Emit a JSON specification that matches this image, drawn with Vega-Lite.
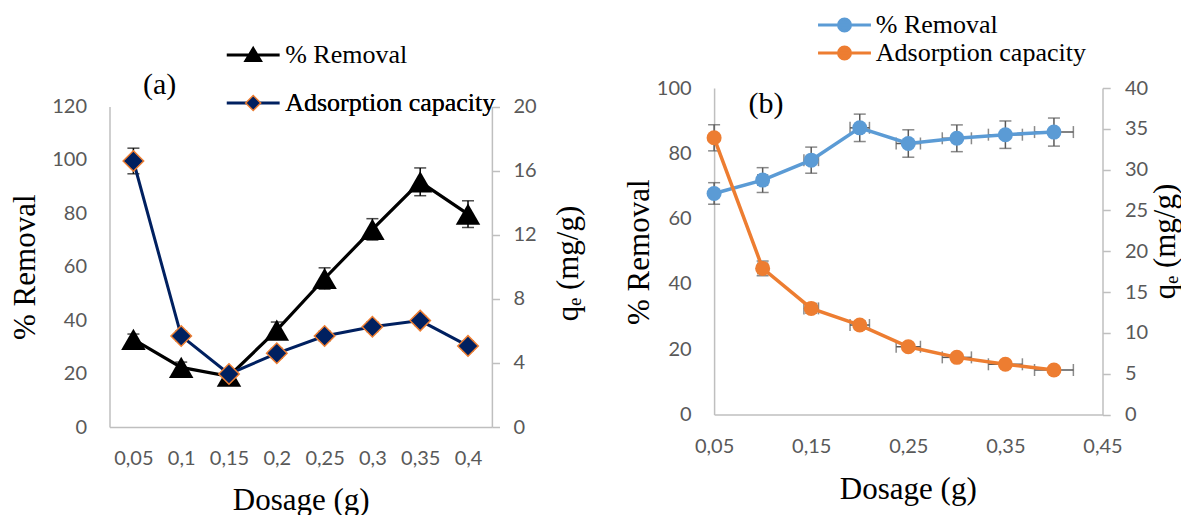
{
  "$schema": "https://vega.github.io/schema/vega-lite/v6.json",
  "background": "white",
  "padding": {"left": 8.5, "top": 12, "right": 0, "bottom": 0},
  "bounds": "flush",
  "spacing": 221.6,
  "config": {
    "view": {"stroke": null},
    "axis": {
      "grid": false,
      "labelFont": "Lato",
      "labelFontSize": 20,
      "labelColor": "#595959",
      "domainColor": "#bfbfbf",
      "domainWidth": 1.5,
      "tickColor": "#bfbfbf",
      "tickWidth": 1.5,
      "titleFont": "Liberation Serif",
      "titleFontSize": 31,
      "titleFontWeight": "normal",
      "titleColor": "black",
      "labelOverlap": false,
      "labelFlush": false
    }
  },
  "datasets": {
    "a": [
      {"dose": "0,05", "removal": 32.8, "removal_err": 2.0, "qe": 16.6, "qe_err": 0.8},
      {"dose": "0,1", "removal": 22.3, "removal_err": 2.0, "qe": 5.68, "qe_err": 0.3},
      {"dose": "0,15", "removal": 19.0, "removal_err": 2.0, "qe": 3.31, "qe_err": 0.3},
      {"dose": "0,2", "removal": 36.3, "removal_err": 3.0, "qe": 4.6, "qe_err": 0.3},
      {"dose": "0,25", "removal": 55.6, "removal_err": 4.0, "qe": 5.68, "qe_err": 0.3},
      {"dose": "0,3", "removal": 74.0, "removal_err": 4.0, "qe": 6.26, "qe_err": 0.3},
      {"dose": "0,35", "removal": 91.8, "removal_err": 5.2, "qe": 6.64, "qe_err": 0.3},
      {"dose": "0,4", "removal": 79.7, "removal_err": 5.0, "qe": 5.06, "qe_err": 0.3}
    ],
    "b": [
      {"dose": 0.05, "dose_err": 0.0025, "removal": 67.7, "removal_err": 3.3, "qe": 33.9, "qe_err": 1.6},
      {"dose": 0.1, "dose_err": 0.005, "removal": 71.8, "removal_err": 3.8, "qe": 17.9, "qe_err": 0.9},
      {"dose": 0.15, "dose_err": 0.0075, "removal": 77.9, "removal_err": 4.0, "qe": 13.0, "qe_err": 0.6},
      {"dose": 0.2, "dose_err": 0.01, "removal": 87.8, "removal_err": 4.2, "qe": 10.96, "qe_err": 0.5},
      {"dose": 0.25, "dose_err": 0.0125, "removal": 83.0, "removal_err": 4.2, "qe": 8.3, "qe_err": 0.4},
      {"dose": 0.3, "dose_err": 0.015, "removal": 84.6, "removal_err": 4.1, "qe": 7.0, "qe_err": 0.4},
      {"dose": 0.35, "dose_err": 0.0175, "removal": 85.7, "removal_err": 4.2, "qe": 6.15, "qe_err": 0.3},
      {"dose": 0.4, "dose_err": 0.02, "removal": 86.5, "removal_err": 4.3, "qe": 5.45, "qe_err": 0.3}
    ]
  },
  "resolve": {"scale": {"color": "independent", "stroke": "independent"}},
  "hconcat": [
    {
      "width": 382.4,
      "height": 339,
      "data": {"name": "a"},
      "title": {"text": "(a)", "frame": "group", "anchor": "start", "orient": "top", "baseline": "middle", "align": "left", "offset": -73.4, "dx": 33.4, "font": "Liberation Serif", "fontSize": 30, "fontWeight": "normal", "color": "black"},
      "resolve": {"scale": {"y": "independent"}},
      "layer": [
        {
          "layer": [
            {
              "mark": {"type": "errorbar", "ticks": true, "color": "black", "thickness": 1.5, "size": 12},
              "encoding": {
                "x": {"field": "dose", "type": "ordinal", "sort": null, "title": "Dosage (g)",
                  "scale": {"type": "point", "padding": 0.5},
                  "axis": {"ticks": false, "tickSize": 0, "labelPadding": 31.3, "labelBaseline": "middle", "labelAngle": 0, "labelOverlap": false, "titleX": 191.2, "titleY": 82, "titleBaseline": "alphabetic", "titleAlign": "center"}},
                "y": {"field": "removal", "type": "quantitative", "title": "% Removal",
                  "scale": {"domain": [0, 120], "range": [339, 18.5], "nice": false, "zero": true},
                  "axis": {"orient": "left", "values": [0, 20, 40, 60, 80, 100, 120], "ticks": false, "tickSize": 0, "labelPadding": 23, "labelOverlap": false, "titleAngle": 270, "titleX": -84.3, "titleY": 178.7, "titleBaseline": "middle", "titleAlign": "center"}},
                "yError": {"field": "removal_err"}
              }
            },
            {
              "mark": {"type": "line", "strokeWidth": 3.2},
              "encoding": {
                "x": {"field": "dose", "type": "ordinal", "sort": null, "title": "Dosage (g)"},
                "y": {"field": "removal", "type": "quantitative", "title": "% Removal"},
                "color": {"datum": "% Removal",
                  "scale": {"domain": ["% Removal", "Adsorption capacity"], "range": ["#000000", "#002060"]},
                  "legend": {"orient": "none", "legendX": 130.7, "legendY": -46, "title": null, "direction": "vertical",
                    "labelOffset": 19, "rowPadding": 22, "padding": 0, "symbolSize": 529, "symbolStrokeWidth": 3, "labelLimit": 0,
                    "labelFont": "Liberation Serif", "labelFontSize": 26, "labelColor": "black",
                    "encode": {"symbols": {"update": {
                      "shape": {"signal": "datum.value === '% Removal' ? 'M-2.3,0H2.3M0,-0.55L0.62,0.48L-0.62,0.48Z' : 'M-2.3,0H2.3M0,-0.45L0.45,0L0,0.45L-0.45,0Z'"},
                      "fill": {"signal": "datum.value === '% Removal' ? '#000000' : '#002060'"},
                      "stroke": {"signal": "datum.value === '% Removal' ? '#000000' : '#002060'"},
                      "strokeWidth": {"value": 3},
                      "opacity": {"value": 1},
                      "size": {"value": 529}
                    }}}
                  }}
              }
            },
            {
              "mark": {"type": "point", "shape": "triangle-up", "filled": true, "size": 600, "opacity": 1},
              "encoding": {
                "x": {"field": "dose", "type": "ordinal", "sort": null, "title": "Dosage (g)"},
                "y": {"field": "removal", "type": "quantitative", "title": "% Removal"},
                "color": {"datum": "% Removal"}
              }
            }
          ]
        },
        {
          "layer": [
            {
              "mark": {"type": "errorbar", "ticks": true, "color": "black", "thickness": 1.5, "size": 12},
              "encoding": {
                "x": {"field": "dose", "type": "ordinal", "sort": null, "title": "Dosage (g)"},
                "y": {"field": "qe", "type": "quantitative", "title": "qₑ (mg/g)",
                  "scale": {"domain": [0, 20], "range": [339, 18.5], "nice": false, "zero": true},
                  "axis": {"orient": "right", "values": [0, 2, 4, 6, 8, 10, 12, 14, 16, 18, 20], "ticks": true, "tickSize": 7.6, "labelPadding": 13.4, "labelOverlap": false, "titleAngle": 270, "titleX": 77, "titleY": 175, "titleBaseline": "middle", "titleAlign": "center"}},
                "yError": {"field": "qe_err"}
              }
            },
            {
              "mark": {"type": "line", "strokeWidth": 3},
              "encoding": {
                "x": {"field": "dose", "type": "ordinal", "sort": null, "title": "Dosage (g)"},
                "y": {"field": "qe", "type": "quantitative", "title": "qₑ (mg/g)"},
                "color": {"datum": "Adsorption capacity"}
              }
            },
            {
              "mark": {"type": "point", "shape": "diamond", "filled": true, "size": 420, "opacity": 1, "strokeWidth": 1.5},
              "encoding": {
                "x": {"field": "dose", "type": "ordinal", "sort": null, "title": "Dosage (g)"},
                "y": {"field": "qe", "type": "quantitative", "title": "qₑ (mg/g)"},
                "color": {"datum": "Adsorption capacity"},
                "stroke": {"datum": "Adsorption capacity",
                  "scale": {"domain": ["Adsorption capacity"], "range": ["#ED7D31"]},
                  "legend": {"orient": "none", "legendX": 130.7, "legendY": 2, "title": null, "direction": "vertical",
                    "labelOffset": 19, "padding": 0, "symbolSize": 225, "symbolStrokeWidth": 1.5, "labelLimit": 0,
                    "labelFont": "Liberation Serif", "labelFontSize": 26, "labelColor": "black",
                    "encode": {
                      "labels": {"update": {"text": {"value": ""}, "opacity": {"value": 0}}},
                      "symbols": {"update": {
                        "shape": {"value": "diamond"},
                        "fill": {"value": "#002060"},
                        "stroke": {"value": "#ED7D31"},
                        "strokeWidth": {"value": 1.5},
                        "opacity": {"value": 1},
                        "size": {"value": 225}
                      }}}
                  }}
              }
            }
          ]
        }
      ]
    },
    {
      "width": 388.4,
      "height": 326.5,
      "data": {"name": "b"},
      "title": {"text": "(b)", "frame": "group", "anchor": "start", "orient": "top", "baseline": "middle", "align": "left", "offset": -121.6, "dx": 34.4, "font": "Liberation Serif", "fontSize": 30, "fontWeight": "normal", "color": "black"},
      "resolve": {"scale": {"y": "independent"}},
      "layer": [
        {
          "layer": [
            {
              "mark": {"type": "errorbar", "ticks": true, "color": "#595959", "thickness": 1.5, "size": 12},
              "encoding": {
                "x": {"field": "dose", "type": "quantitative", "title": "Dosage (g)",
                  "scale": {"domain": [0.05, 0.45], "nice": false, "zero": false},
                  "axis": {"values": [0.05, 0.15, 0.25, 0.35, 0.45], "format": ".2f", "labelExpr": "replace(datum.label, '.', ',')", "ticks": false, "tickSize": 0, "labelPadding": 32, "labelBaseline": "middle", "labelOverlap": false, "titleX": 193.7, "titleY": 84.3, "titleBaseline": "alphabetic", "titleAlign": "center"}},
                "y": {"field": "removal", "type": "quantitative", "title": "% Removal",
                  "scale": {"domain": [0, 100], "nice": false, "zero": true},
                  "axis": {"orient": "left", "values": [0, 10, 20, 30, 40, 50, 60, 70, 80, 90, 100], "ticks": false, "tickSize": 0, "labelPadding": 23, "labelOverlap": false, "titleAngle": 270, "titleX": -74.8, "titleY": 163.7, "titleBaseline": "middle", "titleAlign": "center"}},
                "yError": {"field": "removal_err"}
              }
            },
            {
              "mark": {"type": "errorbar", "ticks": true, "color": "#595959", "thickness": 1.5, "size": 12},
              "encoding": {
                "x": {"field": "dose", "type": "quantitative", "title": "Dosage (g)"},
                "xError": {"field": "dose_err"},
                "y": {"field": "removal", "type": "quantitative", "title": "% Removal"}
              }
            },
            {
              "mark": {"type": "line", "strokeWidth": 3.5},
              "encoding": {
                "x": {"field": "dose", "type": "quantitative", "title": "Dosage (g)"},
                "y": {"field": "removal", "type": "quantitative", "title": "% Removal"},
                "color": {"datum": "% Removal",
                  "scale": {"domain": ["% Removal", "Adsorption capacity"], "range": ["#5B9BD5", "#ED7D31"]},
                  "legend": {"orient": "none", "legendX": 117.4, "legendY": -76, "title": null, "direction": "vertical",
                    "labelOffset": 18.3, "rowPadding": 2, "padding": 0, "symbolSize": 529, "symbolStrokeWidth": 3, "labelLimit": 0,
                    "symbolType": "M-2.3,0H2.3M-0.52,0A0.52,0.52,0,1,1,0.52,0A0.52,0.52,0,1,1,-0.52,0Z",
                    "labelFont": "Liberation Serif", "labelFontSize": 26, "labelColor": "black",
                    "encode": {"symbols": {"update": {
                      "shape": {"value": "M-2.3,0H2.3M-0.52,0A0.52,0.52,0,1,1,0.52,0A0.52,0.52,0,1,1,-0.52,0Z"},
                      "fill": {"signal": "datum.value === '% Removal' ? '#5B9BD5' : '#ED7D31'"},
                      "stroke": {"signal": "datum.value === '% Removal' ? '#5B9BD5' : '#ED7D31'"},
                      "strokeWidth": {"value": 3},
                      "opacity": {"value": 1},
                      "size": {"value": 529}
                    }}}
                  }}
              }
            },
            {
              "mark": {"type": "point", "shape": "circle", "filled": true, "size": 225, "opacity": 1},
              "encoding": {
                "x": {"field": "dose", "type": "quantitative", "title": "Dosage (g)"},
                "y": {"field": "removal", "type": "quantitative", "title": "% Removal"},
                "color": {"datum": "% Removal"}
              }
            }
          ]
        },
        {
          "layer": [
            {
              "mark": {"type": "errorbar", "ticks": true, "color": "#595959", "thickness": 1.5, "size": 12},
              "encoding": {
                "x": {"field": "dose", "type": "quantitative", "title": "Dosage (g)"},
                "y": {"field": "qe", "type": "quantitative", "title": "qₑ (mg/g)",
                  "scale": {"domain": [0, 40], "nice": false, "zero": true},
                  "axis": {"orient": "right", "values": [0, 5, 10, 15, 20, 25, 30, 35, 40], "ticks": true, "tickSize": 7.7, "labelPadding": 14.3, "labelOverlap": false, "titleAngle": 270, "titleX": 63, "titleY": 153, "titleBaseline": "middle", "titleAlign": "center"}},
                "yError": {"field": "qe_err"}
              }
            },
            {
              "mark": {"type": "errorbar", "ticks": true, "color": "#595959", "thickness": 1.5, "size": 12},
              "encoding": {
                "x": {"field": "dose", "type": "quantitative", "title": "Dosage (g)"},
                "xError": {"field": "dose_err"},
                "y": {"field": "qe", "type": "quantitative", "title": "qₑ (mg/g)"}
              }
            },
            {
              "mark": {"type": "line", "strokeWidth": 3.5},
              "encoding": {
                "x": {"field": "dose", "type": "quantitative", "title": "Dosage (g)"},
                "y": {"field": "qe", "type": "quantitative", "title": "qₑ (mg/g)"},
                "color": {"datum": "Adsorption capacity"}
              }
            },
            {
              "mark": {"type": "point", "shape": "circle", "filled": true, "size": 225, "opacity": 1},
              "encoding": {
                "x": {"field": "dose", "type": "quantitative", "title": "Dosage (g)"},
                "y": {"field": "qe", "type": "quantitative", "title": "qₑ (mg/g)"},
                "color": {"datum": "Adsorption capacity"}
              }
            }
          ]
        }
      ]
    }
  ]
}
